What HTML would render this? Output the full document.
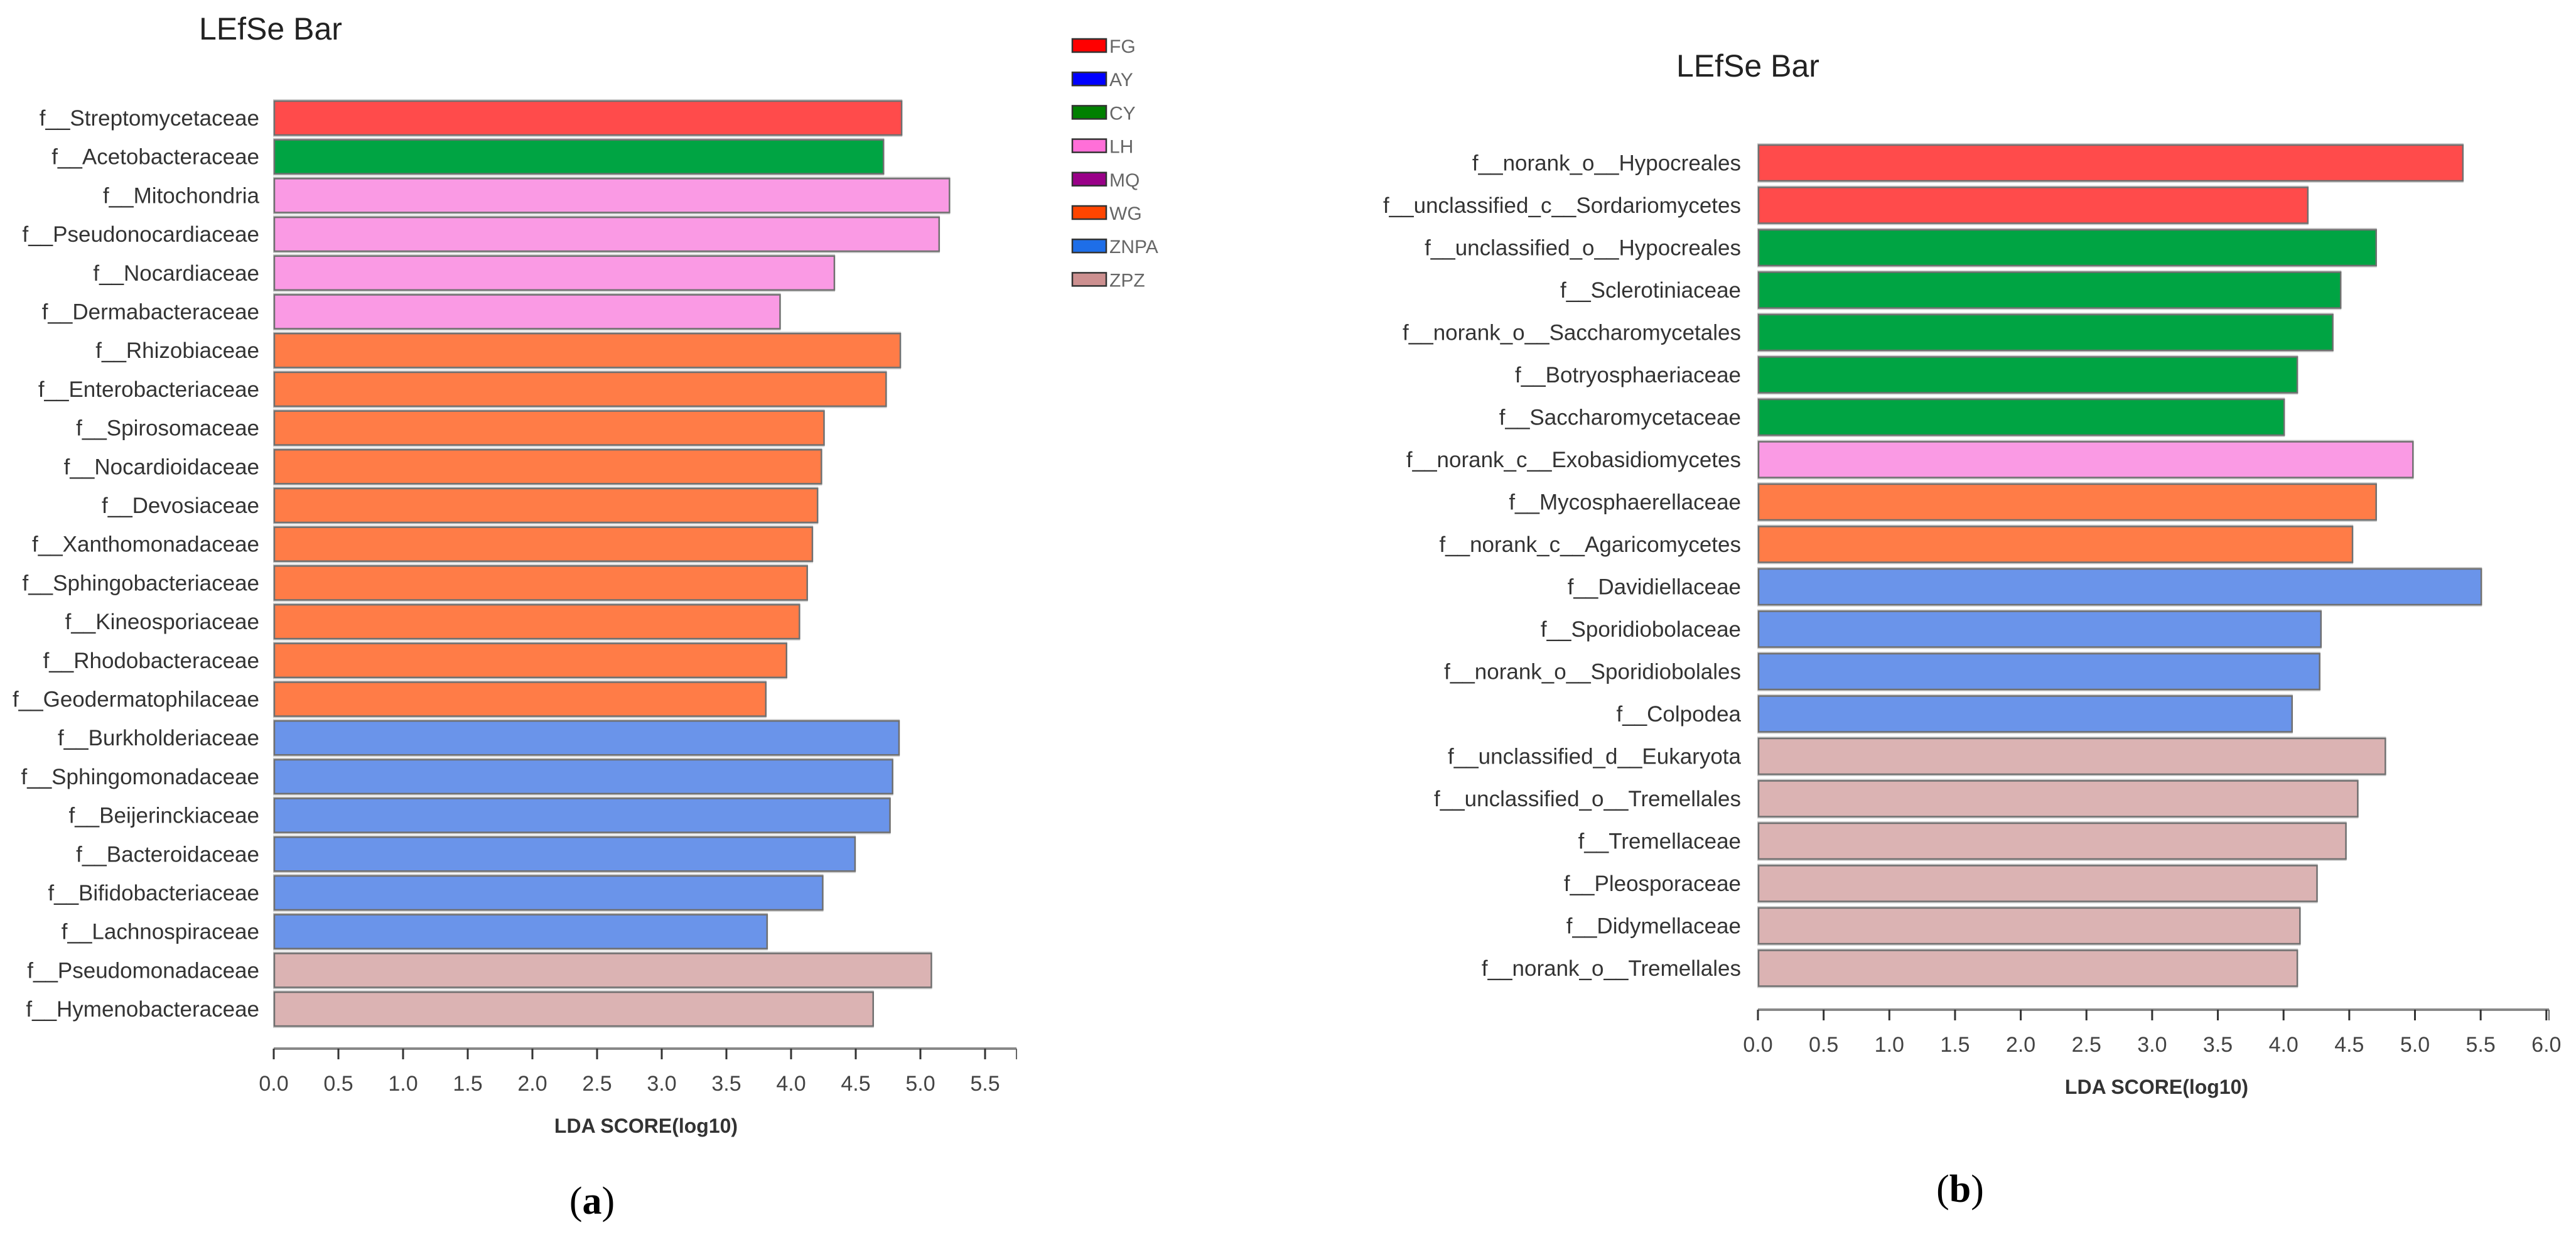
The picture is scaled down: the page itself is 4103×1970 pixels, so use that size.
<!DOCTYPE html>
<html><head><meta charset="utf-8"><style>
html,body{margin:0;padding:0;background:#fff;}
svg{display:block;}
</style></head><body>
<svg id="fig" width="4103" height="1970" xmlns="http://www.w3.org/2000/svg" style="font-family:'Liberation Sans',sans-serif">
<rect width="4103" height="1970" fill="#fff"/>
</svg>
<script>
// ---- data: panel a ----
const catsA = ["f__Streptomycetaceae","f__Acetobacteraceae","f__Mitochondria","f__Pseudonocardiaceae","f__Nocardiaceae","f__Dermabacteraceae","f__Rhizobiaceae","f__Enterobacteriaceae","f__Spirosomaceae","f__Nocardioidaceae","f__Devosiaceae","f__Xanthomonadaceae","f__Sphingobacteriaceae","f__Kineosporiaceae","f__Rhodobacteraceae","f__Geodermatophilaceae","f__Burkholderiaceae","f__Sphingomonadaceae","f__Beijerinckiaceae","f__Bacteroidaceae","f__Bifidobacteriaceae","f__Lachnospiraceae","f__Pseudomonadaceae","f__Hymenobacteraceae"];
const valsA = [4.85,4.71,5.22,5.14,4.33,3.91,4.84,4.73,4.25,4.23,4.20,4.16,4.12,4.06,3.96,3.80,4.83,4.78,4.76,4.49,4.24,3.81,5.08,4.63];
const grpA = ["FG","CY","LH","LH","LH","LH","WG","WG","WG","WG","WG","WG","WG","WG","WG","WG","ZNPA","ZNPA","ZNPA","ZNPA","ZNPA","ZNPA","ZPZ","ZPZ"];
const ticksA = ["0.0","0.5","1.0","1.5","2.0","2.5","3.0","3.5","4.0","4.5","5.0","5.5"];
// ---- data: panel b ----
const catsB = ["f__norank_o__Hypocreales","f__unclassified_c__Sordariomycetes","f__unclassified_o__Hypocreales","f__Sclerotiniaceae","f__norank_o__Saccharomycetales","f__Botryosphaeriaceae","f__Saccharomycetaceae","f__norank_c__Exobasidiomycetes","f__Mycosphaerellaceae","f__norank_c__Agaricomycetes","f__Davidiellaceae","f__Sporidiobolaceae","f__norank_o__Sporidiobolales","f__Colpodea","f__unclassified_d__Eukaryota","f__unclassified_o__Tremellales","f__Tremellaceae","f__Pleosporaceae","f__Didymellaceae","f__norank_o__Tremellales"];
const valsB = [5.36,4.18,4.70,4.43,4.37,4.10,4.00,4.98,4.70,4.52,5.50,4.28,4.27,4.06,4.77,4.56,4.47,4.25,4.12,4.10];
const grpB = ["FG","FG","CY","CY","CY","CY","CY","LH","WG","WG","ZNPA","ZNPA","ZNPA","ZNPA","ZPZ","ZPZ","ZPZ","ZPZ","ZPZ","ZPZ"];
const ticksB = ["0.0","0.5","1.0","1.5","2.0","2.5","3.0","3.5","4.0","4.5","5.0","5.5","6.0"];
// ---- legend ----
const legendNames = ["FG","AY","CY","LH","MQ","WG","ZNPA","ZPZ"];
const legendColors = ["#ff0000","#0000ff","#008000","#ff6fd8","#990088","#ff4500","#1e6ee8","#cd9090"];
const barColors = {FG:"#ff4b4b",CY:"#00a443",LH:"#fa9ae4",WG:"#ff7c47",ZNPA:"#6a94ea",ZPZ:"#dbb3b3",AY:"#3b3bff",MQ:"#a03090"};

const NS="http://www.w3.org/2000/svg";
const svg=document.getElementById('fig');
function mk(tag,attrs,parent){const e=document.createElementNS(NS,tag);for(const k in attrs)e.setAttribute(k,attrs[k]);(parent||svg).appendChild(e);return e;}

function panel(cfg){
  const g=mk('g',{});
  
  
  const x=v=>cfg.x0+v*cfg.unit;
  const y=i=>cfg.y0+i*cfg.pitch;
  const t=mk('text',{x:cfg.titleX,y:cfg.titleY,'font-size':50,fill:'#222'},g);
  t.textContent='LEfSe Bar';
  
  
  cfg.cats.forEach((c,i)=>{
    const by=y(i), w=x(cfg.vals[i])-cfg.x0;
    const sh=mk('rect',{x:cfg.x0-1,y:by-3,width:w+3,height:cfg.bh+6,fill:'#cfcfcf'},g);
    
    
    const r=mk('rect',{x:cfg.x0+1,y:by,width:w,height:cfg.bh,fill:barColors[cfg.grp[i]],stroke:'#707070','stroke-width':2.5},g);
    
    
    const l=mk('text',{x:cfg.labelX,y:by+cfg.bh/2+12,'font-size':35,'text-anchor':'end',fill:'#333'},g);
    l.textContent=c;
    
    
  });
  const ax=mk('line',{x1:cfg.x0,y1:cfg.axisY,x2:cfg.axisEnd,y2:cfg.axisY,stroke:'#888','stroke-width':4},g);
  
  
  [cfg.x0,cfg.axisEnd].forEach(px=>{
    const e=mk('line',{x1:px,y1:cfg.axisY,x2:px,y2:cfg.axisY+17,stroke:'#666','stroke-width':2},g);
    
    
  });
  cfg.ticks.forEach(tl=>{
    const px=x(parseFloat(tl));
    const tk=mk('line',{x1:px,y1:cfg.axisY,x2:px,y2:cfg.axisY+17,stroke:'#333','stroke-width':3},g);
    
    
    const tx=mk('text',{x:px,y:cfg.axisY+67,'font-size':34,'text-anchor':'middle',fill:'#444'},g);
    tx.textContent=tl;
    
    
  });
  const at=mk('text',{x:cfg.axTitleX,y:cfg.axisY+134,'font-size':32,'font-weight':'bold','text-anchor':'middle',fill:'#333'},g);
  at.textContent='LDA SCORE(log10)';
  
  
  const pl=mk('text',{x:cfg.capX,y:cfg.capY,'font-size':62,'text-anchor':'middle',fill:'#000','font-family':"'Liberation Serif',serif"},g);
  pl.innerHTML='(<tspan font-weight="bold">'+cfg.cap+'</tspan>)';
  
  
}

panel({name:'panel-a',cats:catsA,vals:valsA,grp:grpA,ticks:ticksA,x0:436,unit:206,y0:161,pitch:61.7,bh:54,labelX:413,
  axisY:1670,axisEnd:1619,axTitleX:1029,titleX:317,titleY:63,capX:943,capY:1933,cap:'a'});
panel({name:'panel-b',cats:catsB,vals:valsB,grp:grpB,ticks:ticksB,x0:2800,unit:209.3,y0:231,pitch:67.5,bh:57,labelX:2773,
  axisY:1608,axisEnd:4060,axTitleX:3435,titleX:2670,titleY:122,capX:3122,capY:1914,cap:'b'});

// legend
const lg=mk('g',{});


legendNames.forEach((n,i)=>{
  const yy=62+i*53.2;
  const s=mk('rect',{x:1708,y:yy,width:54,height:21,fill:legendColors[i],stroke:'#333','stroke-width':2.5},lg);
  
  
  const t=mk('text',{x:1767,y:yy+22,'font-size':30,fill:'#666'},lg);
  t.textContent=n;
  
  
});
</script>
</body></html>
